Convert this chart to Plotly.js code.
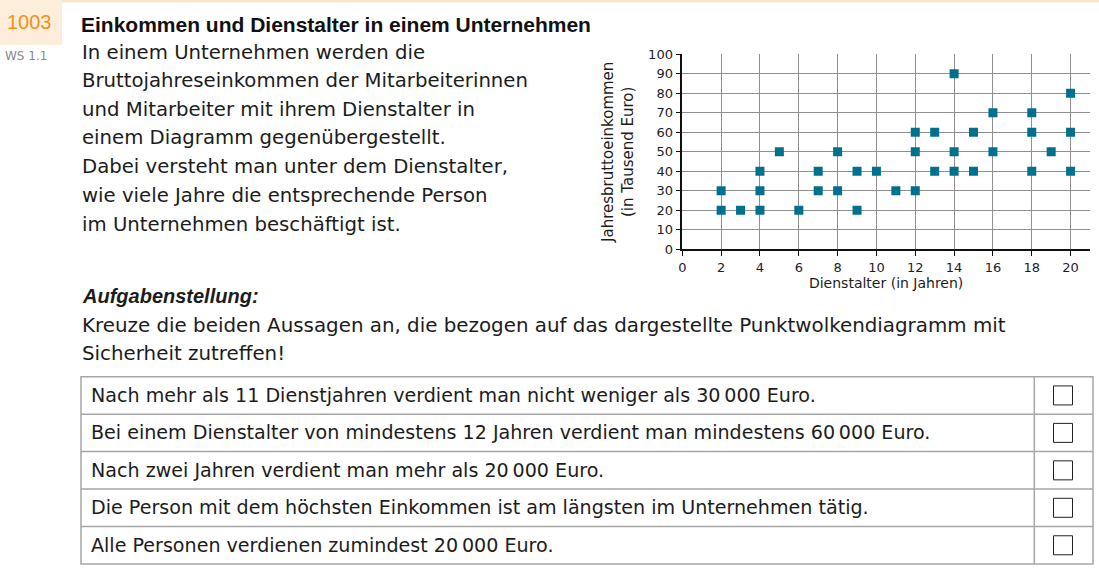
<!DOCTYPE html>
<html>
<head>
<meta charset="utf-8">
<script src="https://cdn.plot.ly/plotly-3.0.1.min.js"></script>
<style>
html,body{margin:0;padding:0;background:#fff;}
#chart{width:1099px;height:575px;}
</style>
</head>
<body>
<div id="chart"></div>
<script>
// ---- data ----
const dienstalter = [2,2,3,4,4,4,5,6,7,7,8,8,9,9,10,11,12,12,12,13,13,14,14,14,15,15,16,16,18,18,18,19,20,20,20];
const einkommen   = [20,30,20,20,30,40,50,20,30,40,30,50,20,40,40,30,30,50,60,40,60,40,50,90,40,60,50,70,40,60,70,50,40,60,80];
const xTicks = [0,2,4,6,8,10,12,14,16,18,20];
const yTicks = [0,10,20,30,40,50,60,70,80,90,100];

const taskNumber = "1003";
const taskCode = "WS 1.1";
const heading = "Einkommen und Dienstalter in einem Unternehmen";
const introLines = [
  "In einem Unternehmen werden die",
  "Bruttojahreseinkommen der Mitarbeiterinnen",
  "und Mitarbeiter mit ihrem Dienstalter in",
  "einem Diagramm gegenübergestellt.",
  "Dabei versteht man unter dem Dienstalter,",
  "wie viele Jahre die entsprechende Person",
  "im Unternehmen beschäftigt ist."
];
const taskHeading = "Aufgabenstellung:";
const taskLines = [
  "Kreuze die beiden Aussagen an, die bezogen auf das dargestellte Punktwolkendiagramm mit",
  "Sicherheit zutreffen!"
];
const statements = [
  "Nach mehr als 11 Dienstjahren verdient man nicht weniger als 30\u2009000 Euro.",
  "Bei einem Dienstalter von mindestens 12 Jahren verdient man mindestens 60\u2009000 Euro.",
  "Nach zwei Jahren verdient man mehr als 20\u2009000 Euro.",
  "Die Person mit dem höchsten Einkommen ist am längsten im Unternehmen tätig.",
  "Alle Personen verdienen zumindest 20\u2009000 Euro."
];
const xTitle = "Dienstalter (in Jahren)";
const yTitle = "Jahresbruttoeinkommen<br>(in Tausend Euro)";

// ---- layout helpers (pixel -> paper) ----
const W = 1099, H = 575;
const X = p => p / W;
const Y = p => 1 - p / H;

const BODY = "DejaVu Sans, Liberation Sans, Arial, sans-serif";
const TXT = "#1c1c1c";

const annotations = [];
const shapes = [];

function txt(text, x, y, size, opts) {
  opts = opts || {};
  annotations.push(Object.assign({
    text: text, xref: "paper", yref: "paper", x: X(x), y: Y(y),
    xanchor: "left", yanchor: "middle", showarrow: false,
    font: {family: BODY, size: size, color: TXT}
  }, opts));
}

// header decorations
shapes.push({type:"rect", xref:"paper", yref:"paper", x0:X(0), x1:X(62), y0:Y(0), y1:Y(45), fillcolor:"#fdeedb", line:{width:0}, layer:"below"});
shapes.push({type:"rect", xref:"paper", yref:"paper", x0:X(62), x1:X(1099), y0:Y(0), y1:Y(2.5), fillcolor:"#fbe6c9", line:{width:0}, layer:"below"});

txt(taskNumber, 5, 22, 20, {font:{family:"Liberation Sans, Arial, sans-serif", size:20, color:"#f5901a"}});
txt(taskCode, 3, 56, 12, {font:{family:"DejaVu Sans, sans-serif", size:12, color:"#8a8a8a"}});
txt("<b>" + heading + "</b>", 79, 24, 21, {font:{family:"Liberation Sans, Arial, sans-serif", size:21, color:"#111"}});

const introY = [52.5, 81, 109, 137.5, 166, 195, 224];
introLines.forEach((l, i) => txt(l, 80, introY[i], 19.7));

txt("<b><i>" + taskHeading + "</i></b>", 80, 296, 20, {font:{family:"Liberation Sans, Arial, sans-serif", size:20, color:TXT}});
const taskY = [325, 353];
taskLines.forEach((l, i) => txt(l, 80, taskY[i], 19.85));

// table
const tTop = 376.7, tBot = 564, tLeft = 81, tRight = 1093, tDiv = 1034.3;
const rowH = (tBot - tTop) / statements.length;
const grey = "#a6a6a6";
shapes.push({type:"rect", xref:"paper", yref:"paper", x0:X(tLeft), x1:X(tRight), y0:Y(tTop), y1:Y(tBot), line:{color:grey, width:1.5}});
shapes.push({type:"line", xref:"paper", yref:"paper", x0:X(tDiv), x1:X(tDiv), y0:Y(tTop), y1:Y(tBot), line:{color:grey, width:1.5}});
statements.forEach((s, i) => {
  const top = tTop + i * rowH;
  if (i > 0) shapes.push({type:"line", xref:"paper", yref:"paper", x0:X(tLeft), x1:X(tRight), y0:Y(top), y1:Y(top), line:{color:grey, width:1.5}});
  const cy = top + rowH / 2;
  txt(s, 89, cy, 19.1);
  shapes.push({type:"rect", xref:"paper", yref:"paper", x0:X(1053.5), x1:X(1072.5), y0:Y(cy - 9.5), y1:Y(cy + 9.5), line:{color:"#222", width:1}});
});

// ---- chart ----
const trace = {
  x: dienstalter, y: einkommen, type: "scatter", mode: "markers",
  marker: {symbol: "square", size: 9, color: "#00708f", line: {width: 0}},
  hoverinfo: "x+y"
};

const axisFont = {family: BODY, size: 13, color: "#1c1c2c"};
const layout = {
  width: W, height: H,
  margin: {l:0, r:0, t:0, b:0},
  paper_bgcolor: "#fff", plot_bgcolor: "#fff",
  showlegend: false,
  font: {family: BODY, color: TXT},
  xaxis: {
    domain: [X(682.3), X(1090)],
    range: [0, 21], tickvals: xTicks, ticktext: xTicks.map(String),
    showgrid: true, gridcolor: "#8f8f8f", gridwidth: 1,
    zeroline: false, showline: true, linecolor: "#111", linewidth: 1.5,
    ticks: "outside", ticklen: 5, tickcolor: "#111", tickwidth: 1,
    tickfont: axisFont,
    title: {text: xTitle, font: {family: BODY, size: 14, color: TXT}, standoff: 4},
    fixedrange: true
  },
  yaxis: {
    domain: [Y(249.3), Y(54.3)],
    range: [0, 100], tickvals: yTicks, ticktext: yTicks.map(String),
    showgrid: true, gridcolor: "#8f8f8f", gridwidth: 1,
    zeroline: false, showline: true, linecolor: "#111", linewidth: 1.5,
    ticks: "outside", ticklen: 5, tickcolor: "#111", tickwidth: 1,
    tickfont: axisFont,
    title: {text: yTitle, font: {family: BODY, size: 15, color: TXT}, standoff: 11},
    fixedrange: true
  },
  annotations: annotations,
  shapes: shapes
};

Plotly.newPlot("chart", [trace], layout, {displayModeBar: false, responsive: false});
</script>
</body>
</html>
